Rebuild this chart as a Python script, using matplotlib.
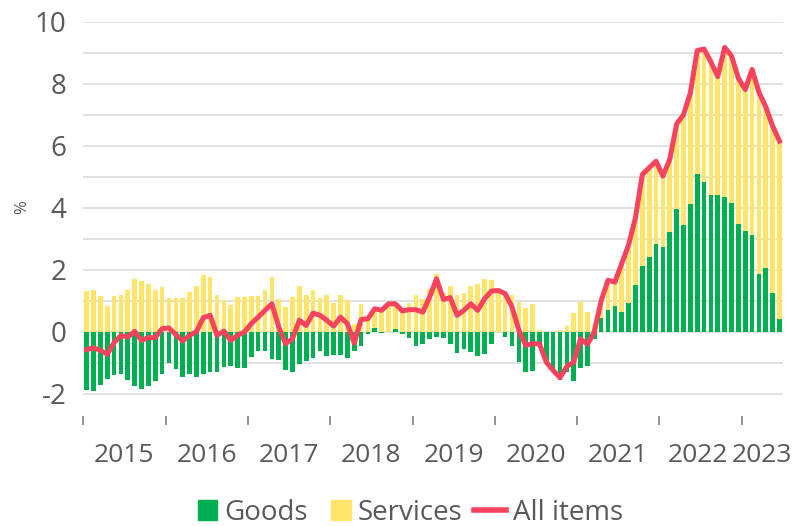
import numpy as np
import matplotlib.pyplot as plt
from matplotlib.patches import Rectangle, Patch
from matplotlib.lines import Line2D
from matplotlib.legend_handler import HandlerPatch

# monthly contributions, Jan 2015 - Jun 2023
goods = [-1.89, -1.91, -1.72, -1.52, -1.41, -1.37, -1.55, -1.76, -1.86, -1.76, -1.59, -1.35,
         -1.01, -1.20, -1.45, -1.37, -1.46, -1.38, -1.31, -1.31, -1.14, -1.12, -1.17, -1.16,
         -0.82, -0.63, -0.63, -0.89, -0.92, -1.25, -1.30, -1.03, -0.96, -0.84, -0.63, -0.77,
         -0.75, -0.75, -0.84, -0.62, -0.47, -0.09, 0.11, -0.04, 0.00, 0.08, -0.09, -0.20,
         -0.47, -0.39, -0.25, -0.16, -0.20, -0.41, -0.69, -0.56, -0.65, -0.78, -0.73, -0.39,
         -0.02, -0.17, -0.47, -0.99, -1.30, -1.26, -0.46, -1.00, -1.28, -1.55, -1.31, -1.59,
         -1.16, -1.10, -0.23, 0.43, 0.70, 0.84, 0.65, 0.92, 1.50, 2.13, 2.42, 2.83,
         2.72, 3.23, 3.96, 3.45, 4.11, 5.10, 4.83, 4.41, 4.41, 4.33, 4.15, 3.49,
         3.26, 3.13, 1.86, 2.07, 1.26, 0.42]

services = [1.31, 1.35, 1.14, 0.83, 1.14, 1.20, 1.33, 1.69, 1.65, 1.54, 1.33, 1.43,
            1.08, 1.09, 1.08, 1.29, 1.48, 1.82, 1.76, 1.18, 1.01, 0.85, 1.12, 1.11,
            1.14, 1.14, 1.33, 1.78, 1.05, 0.80, 1.12, 1.49, 1.18, 1.35, 1.09, 1.18,
            0.92, 1.18, 1.01, 0.24, 0.88, 0.45, 0.58, 0.72, 0.88, 0.85, 0.76, 0.91,
            1.18, 1.04, 1.37, 1.85, 1.24, 1.46, 1.20, 1.25, 1.46, 1.53, 1.71, 1.68,
            1.35, 1.25, 1.17, 0.95, 0.77, 0.88, 0.06, 0.00, 0.00, 0.05, 0.17, 0.60,
            0.96, 0.62, 0.23, 0.57, 0.96, 0.76, 1.55, 1.88, 2.18, 2.94, 2.87, 2.67,
            2.30, 2.33, 2.72, 3.55, 3.64, 3.99, 4.31, 4.31, 3.82, 4.87, 4.77, 4.69,
            4.54, 5.35, 5.84, 5.15, 5.37, 5.73]

all_items = [-0.58, -0.52, -0.60, -0.73, -0.35, -0.12, -0.17, 0.01, -0.28, -0.19, -0.19, 0.10,
             0.12, -0.09, -0.30, -0.12, 0.00, 0.45, 0.53, -0.12, 0.02, -0.28, -0.12, -0.01,
             0.26, 0.47, 0.69, 0.90, 0.15, -0.39, -0.23, 0.37, 0.20, 0.60, 0.53, 0.37,
             0.18, 0.47, 0.26, -0.37, 0.39, 0.42, 0.74, 0.69, 0.90, 0.90, 0.67, 0.71,
             0.71, 0.63, 1.12, 1.71, 1.04, 1.10, 0.53, 0.69, 0.90, 0.69, 1.06, 1.31,
             1.33, 1.23, 0.80, 0.05, -0.44, -0.39, -0.39, -0.98, -1.25, -1.48, -1.12, -0.98,
             -0.23, -0.41, 0.00, 1.00, 1.66, 1.60, 2.20, 2.80, 3.68, 5.07, 5.29, 5.50,
             5.02, 5.56, 6.70, 7.00, 7.70, 9.07, 9.12, 8.70, 8.23, 9.17, 8.90, 8.18,
             7.81, 8.46, 7.73, 7.25, 6.63, 6.15]

years = ['2015', '2016', '2017', '2018', '2019', '2020', '2021', '2022', '2023']

GREEN = '#00b050'
YELLOW = '#ffe66b'
RED = '#f8435f'
GREY = '#595959'

plt.rcParams['font.family'] = ['Open Sans', 'DejaVu Sans']
plt.rcParams['axes.unicode_minus'] = False

goods = np.array(goods)
services = np.array(services)
x = np.arange(len(goods))

fig = plt.figure(figsize=(8.08, 5.26), dpi=100)
ax = fig.add_axes([0.103, 0.1926, 0.866, 0.7661])

# Excel-style stacking: positive pieces sit on positive pieces
ax.bar(x, goods, width=0.68, color=GREEN, zorder=2)
ax.bar(x, services, width=0.68, bottom=np.where(goods > 0, goods, 0),
       color=YELLOW, zorder=2)
ax.plot(x, all_items, color=RED, lw=3.6, solid_joinstyle='round', zorder=3)

ax.set_xlim(-0.5, len(x) - 0.5)
ax.set_ylim(-3, 10)

ax.set_yticks(range(-2, 11, 2))
ax.set_yticks(range(-1, 10, 2), minor=True)
ax.grid(True, axis='y', which='both', color='#d9d9d9', lw=1.1)
ax.set_axisbelow(True)
ax.tick_params(axis='y', which='both', length=0, pad=12, labelsize=20, labelcolor=GREY)

# year boundaries as ticks, year names centred on each group
bounds = list(range(0, len(x), 12))
ax.set_xticks([b - 0.5 for b in bounds])
ax.set_xticklabels([])
centres = [(b - 0.5 + min(b + 12, len(x)) - 0.5) / 2 for b in bounds]
centres[-2] -= 0.4  # keep the last two labels apart
ax.set_xticks(centres, minor=True)
ax.set_xticklabels(years, minor=True)
ax.tick_params(axis='x', which='major', direction='in', length=6.5, width=1.2, color='#7f7f7f')
ax.tick_params(axis='x', which='minor', length=0, pad=13, labelsize=19, labelcolor=GREY)

for s in ax.spines.values():
    s.set_visible(False)

fig.text(0.028, 0.606, '%', rotation=90, ha='center', va='center', fontsize=12, color=GREY)


def square(legend, orig_handle, xdescent, ydescent, width, height, fontsize):
    return Rectangle((width - xdescent - height, -ydescent), height, height)


handles = [Patch(color=GREEN), Patch(color=YELLOW), Line2D([], [], color=RED, lw=4)]
fig.legend(handles, ['Goods', 'Services', 'All items'], loc='center',
           bbox_to_anchor=(0.5, 0.025), ncol=3, frameon=False,
           fontsize=20, labelcolor=GREY, handlelength=1.15, handleheight=0.7,
           handletextpad=0.25, columnspacing=0.4,
           handler_map={Patch: HandlerPatch(patch_func=square)})

fig.savefig('out.png', dpi=100)
